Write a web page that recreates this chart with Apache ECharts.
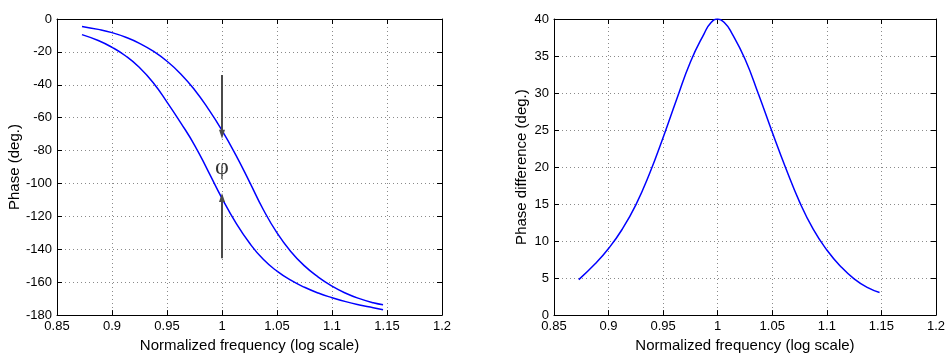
<!DOCTYPE html>
<html>
<head>
<meta charset="utf-8">
<title>Phase</title>
<script src="https://cdn.jsdelivr.net/npm/echarts@6/dist/echarts.min.js"></script>
<style>
  html, body { margin: 0; padding: 0; background: #fff; }
  #chart { width: 948px; height: 358px; }
</style>
</head>
<body>
<div id="chart"></div>
<script>
// x ticks / ranges
const freqMin = 0.85;
const freqMax = 1.2;
const freqStep = 0.05;

// left plot: two phase curves
const freqLeft = [0.8727, 0.8875, 0.9, 0.9125, 0.925, 0.9375, 0.95, 0.9625, 0.975, 0.9875, 1.0, 1.0125,
  1.025, 1.0375, 1.05, 1.0625, 1.075, 1.0875, 1.1, 1.1125, 1.125, 1.1375, 1.1464];
const phaseUpper = [-4.5, -6.3, -8.3, -11.1, -14.8, -19.6, -25.7, -33.4, -43.0, -54.6, -67.7, -82.6,
  -99.0, -115.8, -130.0, -141.3, -150.1, -156.9, -162.4, -166.7, -170.0, -172.5, -173.7];
const phaseLower = [-9.5, -13.1, -17.2, -22.5, -29.5, -38.7, -50.5, -63.1, -76.6, -92.6, -109.0, -123.8,
  -136.2, -146.1, -153.3, -158.8, -163.1, -166.6, -169.4, -171.8, -173.8, -175.5, -176.8];

// arrows at f = 1 marking phi
const arrowFreq = 1.0;
const arrowDown = [-34, -70];
const arrowUp = [-145.5, -108.5];
const phiLabel = [1.0, -90.5];

// right plot: phase difference
const freqRight = [0.8727, 0.8875, 0.9, 0.9125, 0.925, 0.9375, 0.95, 0.9625, 0.975, 0.9875, 0.99375, 1.0,
  1.00625, 1.0125, 1.025, 1.0375, 1.05, 1.0625, 1.075, 1.0875, 1.1, 1.1125, 1.125, 1.1375, 1.1483];
const phaseDiff = [4.8, 6.9, 9.0, 11.6, 14.9, 19.1, 24.0, 29.2, 34.2, 38.0, 39.5, 40.0,
  39.5, 38.2, 34.6, 29.8, 24.7, 19.8, 15.3, 11.6, 8.8, 6.6, 4.9, 3.7, 3.05];

const zip = (xs, ys) => xs.map((x, i) => [x, ys[i]]);

const font = 'Liberation Sans, Arial, sans-serif';
const blue = '#0000ff';

const gridLine = { show: true, lineStyle: { color: '#8a8a8a', type: [1, 3], width: 1 } };
const axisLine = { show: true, onZero: false, lineStyle: { color: '#000', width: 1 } };
const tick = { show: true, inside: true, length: 5, lineStyle: { color: '#000' } };
const label = { color: '#000', fontFamily: font, fontSize: 13, margin: 5 };
const nameStyle = { color: '#000', fontFamily: font, fontSize: 15 };

const xBottom = (gridIndex) => ({
  type: 'value', gridIndex, min: freqMin, max: freqMax, interval: freqStep,
  name: 'Normalized frequency (log scale)', nameLocation: 'middle', nameGap: 18,
  nameTextStyle: nameStyle,
  axisLine, axisTick: tick, axisLabel: label, splitLine: gridLine
});
const xTop = (gridIndex) => ({
  type: 'value', gridIndex, position: 'top', min: freqMin, max: freqMax, interval: freqStep,
  axisLine, axisTick: tick, axisLabel: { show: false }, splitLine: { show: false }
});
const yLeft = (gridIndex, min, max, interval, name, nameGap) => ({
  type: 'value', gridIndex, min, max, interval, name, nameLocation: 'middle', nameGap,
  nameTextStyle: nameStyle,
  axisLine, axisTick: tick, axisLabel: label, splitLine: gridLine
});
const yRight = (gridIndex, min, max, interval) => ({
  type: 'value', gridIndex, position: 'right', min, max, interval,
  axisLine, axisTick: tick, axisLabel: { show: false }, splitLine: { show: false }
});

const arrowLine = (from, to) => [{ coord: [arrowFreq, from] }, { coord: [arrowFreq, to] }];

const option = {
  animation: false,
  backgroundColor: '#fff',
  grid: [
    { left: 57, top: 19, width: 385, height: 304 },
    { left: 554, top: 19, width: 383, height: 302 }
  ],
  xAxis: [xBottom(0), xTop(0), xBottom(1), xTop(1)],
  yAxis: [
    yLeft(0, -180, 0, 20, 'Phase (deg.)', 33),
    yRight(0, -180, 0, 20),
    yLeft(1, 0, 40, 5, 'Phase difference (deg.)', 25),
    yRight(1, 0, 40, 5)
  ],
  series: [
    {
      type: 'line', xAxisIndex: 0, yAxisIndex: 0,
      data: zip(freqLeft, phaseUpper), smooth: true, showSymbol: false,
      lineStyle: { color: blue, width: 1.5 },
      markLine: {
        silent: true,
        symbol: ['none', 'triangle'],
        symbolSize: [6, 9],
        label: { show: false },
        lineStyle: { color: '#4a4a4a', width: 2, type: 'solid' },
        data: [arrowLine(arrowDown[0], arrowDown[1]), arrowLine(arrowUp[0], arrowUp[1])]
      }
    },
    {
      type: 'line', xAxisIndex: 0, yAxisIndex: 0,
      data: zip(freqLeft, phaseLower), smooth: true, showSymbol: false,
      lineStyle: { color: blue, width: 1.5 }
    },
    {
      type: 'scatter', xAxisIndex: 0, yAxisIndex: 0,
      data: [phiLabel], symbolSize: 0, silent: true,
      label: {
        show: true, position: 'inside', formatter: 'φ',
        color: '#000', fontFamily: 'Liberation Serif, Times New Roman, serif', fontSize: 24
      }
    },
    {
      type: 'line', xAxisIndex: 2, yAxisIndex: 2,
      data: zip(freqRight, phaseDiff), smooth: true, showSymbol: false,
      lineStyle: { color: blue, width: 1.5 }
    }
  ]
};

const myChart = echarts.init(document.getElementById('chart'));
option && myChart.setOption(option);
</script>
</body>
</html>
